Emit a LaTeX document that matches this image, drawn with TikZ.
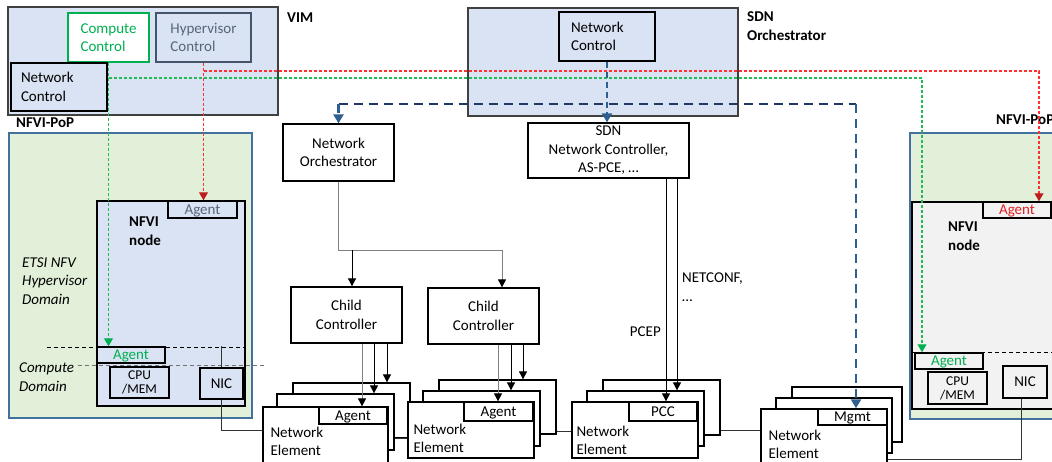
\documentclass[tikz,border=0pt]{standalone}
\usepackage{fontspec}
\setmainfont{Carlito}
\usetikzlibrary{arrows.meta, positioning, calc}

\newcommand{\figfont}{\fontsize{15}{18.5}\selectfont}
\newcommand{\hwfont}{\fontsize{13.5}{14}\selectfont}

\definecolor{boxblue}{HTML}{DAE3F3}
\definecolor{popgreen}{HTML}{E2F0D9}
\definecolor{popedge}{HTML}{41719C}
\definecolor{nodegray}{HTML}{F2F2F2}
\definecolor{okgreen}{HTML}{00B050}
\definecolor{dotgreen}{HTML}{22BB55}
\definecolor{hvgray}{HTML}{44546A}
\definecolor{hvtext}{HTML}{56657A}
\definecolor{dotred}{HTML}{FF3030}
\definecolor{agred}{HTML}{E02222}
\definecolor{busnavy}{HTML}{1F3864}
\definecolor{busblue}{HTML}{2E5F8F}
\definecolor{linegray}{HTML}{808080}

\tikzset{
  sz/.style 2 args={minimum width=#1, minimum height=#2},
  orchbox/.style={draw=black!75, line width=1.4pt, fill=boxblue, inner sep=0pt},
  popbox/.style={draw=popedge, line width=2pt, fill=popgreen, inner sep=0pt},
  hostbox/.style={draw, line width=1.3pt, inner sep=0pt},
  ctrl/.style={draw, line width=1.3pt, fill=white, inner sep=0pt, align=center},
  agentbox/.style={draw, line width=1.5pt, inner sep=0pt, text depth=0pt},
  hwbox/.style={draw, line width=1.4pt, inner sep=0pt, align=center},
  nebox/.style={draw, line width=1.3pt, fill=white, inner sep=0pt},
  netxt/.style={align=left, inner sep=0pt, anchor=west},
  tagtxt/.style={font=\figfont\bfseries, align=left, inner sep=0pt, anchor=west},
  domtxt/.style={font=\figfont\itshape, align=left, inner sep=0pt, anchor=west},
  wire/.style={draw=black!80, line width=0.8pt},
  bline/.style={draw=black, line width=0.9pt, -{Triangle[width=8pt,length=8pt]}},
  gline/.style={draw=linegray, line width=0.9pt, -{Triangle[width=8pt,length=8pt,color=black]}},
  sepline/.style={line width=0.8pt, dash pattern=on 4pt off 3pt},
  grdot/.style={draw=dotgreen, line width=1.1pt, dash pattern=on 3pt off 2pt, -{Triangle[width=9pt,length=8pt,color=okgreen]}},
  rddot/.style={draw=dotred, line width=1.1pt, dash pattern=on 3pt off 2pt, -{Triangle[width=9pt,length=8pt,color=agred!85!black]}},
  busline/.style={draw=busnavy, line width=2.4pt, dash pattern=on 9pt off 6pt},
  busdown/.style={draw=busblue, line width=2.4pt, dash pattern=on 9pt off 6pt, -{Triangle[width=10pt,length=9pt]}},
}

\begin{document}
\begin{tikzpicture}[x=1pt, y=-1pt, font=\figfont]
    \useasboundingbox (0,0) rectangle (1052,461);
    \clip (0,0) rectangle (1052,461);
    \fill[white] (0,0) rectangle (1052,461);

    % VIM
    \node[orchbox, sz={270pt}{108pt}] (vim) at (143,61) {};
    \node[tagtxt] (vimlbl) at (287,18) {VIM};
    \node[ctrl, align=left, draw=okgreen, text=okgreen, sz={81pt}{49pt}] (cmp) at (108.5,37.5) {Compute\\Control};
    \node[ctrl, align=left, draw=hvgray, fill=boxblue, text=hvtext, sz={95pt}{49pt}] (hyp) at (203.5,37.5) {Hypervisor\\Control};
    \node[ctrl, line width=1.6pt, fill=boxblue, align=left, inner xsep=10pt, text width=76pt, sz={96pt}{48pt}] (vimnc) at (59,87) {Network\\Control};

    % SDN orchestrator
    \node[orchbox, sz={270pt}{108pt}] (sdn) at (603,62) {};
    \node[tagtxt] (sdnlbl) at (747,26) {SDN\\Orchestrator};
    \node[ctrl, line width=1.5pt, fill=boxblue, align=left, inner xsep=12pt, text width=72pt, sz={96pt}{49pt}] (sdnnc) at (607,36.5) {Network\\Control};

    % NFVI-PoP links
    \node[popbox, sz={243pt}{285pt}] (popL) at (130.5,275.5) {};
    \node[tagtxt] (popLlbl) at (16,123) {NFVI-PoP};
    \node[hostbox, fill=boxblue, sz={148pt}{205pt}] (nodeL) at (171,303.5) {};
    \node[tagtxt] (nodeLlbl) at (129,231) {NFVI\\node};
    \node[domtxt] (hvdom) at (22,281) {ETSI NFV\\Hypervisor\\Domain};
    \node[domtxt] (cpdom) at (19,377) {Compute\\Domain};
    \node[agentbox, fill=boxblue, text=hvtext, sz={69pt}{17pt}] (agLt) at (202.5,209.5) {Agent};
    \draw[sepline] (47,347) -- (nodeL.east |- 0,347);
    \draw[sepline, draw=black!55] (78,365) -- (265,365);
    \node[agentbox, fill=boxblue, text=okgreen, sz={68pt}{16pt}] (agLg) at (131,355) {Agent};
    \node[hwbox, fill=boxblue, font=\hwfont, sz={59pt}{31pt}] (cpuL) at (139.5,382.5) {CPU\\/MEM};
    \node[hwbox, fill=boxblue, sz={43pt}{31pt}] (nicL) at (221.5,383.5) {NIC};

    % NFVI-PoP rechts
    \node[popbox, sz={160pt}{286pt}] (popR) at (990,276) {};
    \node[tagtxt] (popRlbl) at (996,120) {NFVI-PoP};
    \node[hostbox, fill=nodegray, sz={158pt}{207pt}] (nodeR) at (991,305.5) {};
    \node[tagtxt] (nodeRlbl) at (948,236) {NFVI\\node};
    \draw[sepline] (nodeR.west |- 0,352) -- (nodeR.east |- 0,352);
    \node[agentbox, fill=nodegray, text=agred, sz={68pt}{16pt}] (agRt) at (1017,210) {Agent};
    \node[agentbox, fill=nodegray, text=okgreen, sz={68pt}{16pt}] (agRg) at (949,361) {Agent};
    \node[hwbox, fill=nodegray, font=\hwfont, sz={59pt}{32pt}] (cpuR) at (957.5,388) {CPU\\/MEM};
    \node[hwbox, fill=nodegray, sz={44pt}{32pt}] (nicR) at (1025,382) {NIC};

    % controllers
    \node[ctrl, sz={161pt}{55pt}] (sdnctl) at (608.5,150.5) {SDN\\Network Controller,\\AS-PCE, …};
    \node[ctrl, sz={111pt}{57pt}] (netorch) at (338.5,152.5) {Network\\Orchestrator};
    \node[ctrl, sz={111pt}{56pt}] (child1) at (346.5,315) {Child\\Controller};
    \node[ctrl, sz={111pt}{56pt}] (child2) at (483.5,316) {Child\\Controller};

    % network elements
    \node[nebox, sz={117pt}{55pt}] (ne1c) at (351.5,410.5) {};
    \node[nebox, sz={117pt}{56pt}] (ne1b) at (335.5,422) {};
    \node[nebox, sz={125pt}{56pt}] (ne1a) at (325.5,435) {};
    \node[agentbox, fill=white, sz={68pt}{17pt}] (ag1) at (353,415.5) {Agent};
    \node[netxt] (ne1t) at ($(ne1a.north west)+(8,35)$) {Network\\Element};

    \node[nebox, sz={117pt}{54pt}] (ne2c) at (497.5,407) {};
    \node[nebox, sz={117pt}{55pt}] (ne2b) at (481.5,418.5) {};
    \node[nebox, sz={126pt}{56pt}] (ne2a) at (471,430) {};
    \node[agentbox, fill=white, sz={69pt}{19pt}] (ag2) at (498.5,411.5) {Agent};
    \node[netxt] (ne2t) at ($(ne2a.north west)+(6,37)$) {Network\\Element};

    \node[nebox, sz={117pt}{55pt}] (ne3c) at (661.5,407.5) {};
    \node[nebox, sz={117pt}{55pt}] (ne3b) at (645.5,418.5) {};
    \node[nebox, sz={126pt}{56pt}] (ne3a) at (635,430) {};
    \node[agentbox, fill=white, sz={68pt}{19pt}] (pcc) at (663,411.5) {PCC};
    \node[netxt] (ne3t) at ($(ne3a.north west)+(5,39)$) {Network\\Element};

    \node[nebox, sz={110pt}{55pt}] (ne4c) at (847,414.5) {};
    \node[nebox, sz={116pt}{55pt}] (ne4b) at (834,425.5) {};
    \node[nebox, sz={126pt}{56pt}] (ne4a) at (824,437) {};
    \node[agentbox, fill=white, sz={69pt}{16pt}] (mgmt) at (852.5,417) {Mgmt};
    \node[netxt] (ne4t) at ($(ne4a.north west)+(8,36)$) {Network\\Element};

    % data plane links
    \draw[wire] (nicL.north) -- (nicL.north |- agLg.north);
    \draw[wire] (nicL.south) |- (ne1a.west |- 0,430);
    \draw[wire] (ne1b.east |- 0,438) -- (ne2a.west |- 0,438);
    \draw[wire] (ne2c.east |- 0,431) -- (ne3a.west |- 0,431);
    \draw[wire] (ne3c.east |- 0,430) -- (ne4a.west |- 0,430);
    \draw[wire] (ne4a.east |- 0,459) -| ([xshift=-4pt]nicR.south);

    % orchestrator tree
    \coordinate (split) at (netorch.south |- 0,250);
    \coordinate (c1in) at ([xshift=5.5pt]child1.north);
    \draw[gline] (netorch.south) -- (split) -| ([xshift=18.5pt]child2.north);
    \draw[bline] (split -| c1in) -- (c1in);

    % child controllers to elements
    \draw[gline] ([xshift=15.5pt]child1.south) -- ([xshift=15.5pt]child1.south |- ne1a.north);
    \draw[bline] ([xshift=27.5pt]child1.south) -- ([xshift=27.5pt]child1.south |- ne1b.north);
    \draw[bline] ([xshift=40.5pt]child1.south) -- ([xshift=40.5pt]child1.south |- ne1c.north);
    \draw[gline] ([xshift=14.5pt]child2.south) -- ([xshift=14.5pt]child2.south |- ne2a.north);
    \draw[bline] ([xshift=27.5pt]child2.south) -- ([xshift=27.5pt]child2.south |- ne2b.north);
    \draw[bline] ([xshift=39.5pt]child2.south) -- ([xshift=39.5pt]child2.south |- ne2c.north);

    % PCEP / NETCONF
    \draw[bline] ([xshift=57.5pt]sdnctl.south) -- ([xshift=57.5pt]sdnctl.south |- ne3a.north);
    \draw[bline] ([xshift=68.5pt]sdnctl.south) -- ([xshift=68.5pt]sdnctl.south |- ne3b.north);
    \node[inner sep=0pt, anchor=east] (pcep) at (661,332) {PCEP};
    \node[netxt] (netconf) at (682,287) {NETCONF,\\…};

    % VIM control (gepunktet)
    \draw[grdot] (cmp.south) -- (cmp.south |- agLg.north);
    \draw[grdot] (cmp.south |- 0,78) -| ([xshift=-27pt]agRg.north);
    \draw[rddot] (hyp.south) -- (hyp.south |- agLt.north);
    \draw[rddot] (hyp.south |- 0,71) -| ([xshift=22pt]agRt.north);

    % SDN orchestration
    \draw[busdown, line width=2pt, dash pattern=on 6pt off 4pt] (sdnnc.south) -- (sdnnc.south |- sdnctl.north);
    \coordinate (busL) at (netorch.north |- 0,104);
    \coordinate (busR) at (856,104);
    \draw[busline] (busL) -- (busR);
    \draw[busdown] (busL) -- (netorch.north);
    \draw[busdown] (busR) -- (busR |- mgmt.north);
\end{tikzpicture}
\end{document}
